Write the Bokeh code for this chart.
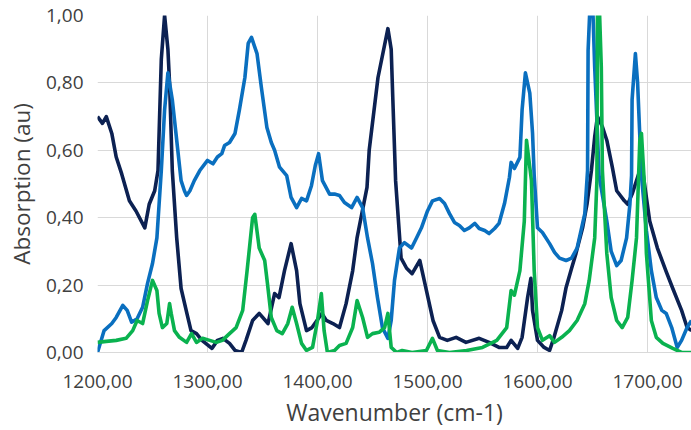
from bokeh.plotting import figure
from bokeh.models import FixedTicker, CustomJSTickFormatter, Range1d
from bokeh.embed import file_html
from bokeh.resources import INLINE

# Navy series
navy_x = [1200, 1204.5, 1208, 1213, 1217, 1222, 1229, 1235, 1243, 1247, 1252, 1255, 1258, 1261, 1264, 1265.5,
          1268, 1272, 1276, 1281, 1285, 1290, 1295, 1304, 1309, 1314, 1320, 1325, 1331, 1335, 1341, 1347,
          1355, 1361, 1365, 1370, 1376, 1381, 1384, 1390, 1395, 1404, 1408, 1414, 1420, 1426, 1432, 1436,
          1445, 1447, 1455, 1464, 1467, 1468.5, 1471, 1476, 1481, 1486, 1493, 1497, 1505, 1511, 1518, 1526,
          1535, 1547, 1556, 1565, 1572, 1576, 1582, 1586, 1591, 1594, 1595.5, 1600, 1606, 1611, 1615, 1622,
          1626, 1631, 1635, 1641, 1645, 1649, 1652, 1654.5, 1659, 1663, 1668, 1672, 1679, 1682, 1686, 1691,
          1694, 1696, 1702, 1709, 1717, 1723, 1731, 1736, 1740]
navy_y = [0.70, 0.68, 0.70, 0.65, 0.58, 0.53, 0.45, 0.42, 0.37, 0.44, 0.48, 0.54, 0.87, 1.00, 0.90, 0.80,
          0.54, 0.34, 0.19, 0.12, 0.065, 0.056, 0.036, 0.012, 0.036, 0.042, 0.027, 0.006, 0.0, 0.036, 0.095, 0.116,
          0.086, 0.175, 0.163, 0.243, 0.323, 0.243, 0.145, 0.065, 0.074, 0.116, 0.095, 0.086, 0.074, 0.145, 0.243, 0.341,
          0.49, 0.60, 0.816, 0.961, 0.90, 0.75, 0.51, 0.28, 0.25, 0.234, 0.273, 0.214, 0.095, 0.045, 0.036, 0.045,
          0.03, 0.042, 0.03, 0.015, 0.015, 0.036, 0.012, 0.045, 0.163, 0.22, 0.125, 0.036, 0.015, 0.006, 0.045, 0.125,
          0.193, 0.25, 0.294, 0.37, 0.44, 0.54, 0.64, 0.70, 0.67, 0.63, 0.55, 0.48, 0.45, 0.44, 0.47, 0.52,
          0.55, 0.53, 0.39, 0.31, 0.24, 0.19, 0.125, 0.074, 0.065]

# Blue series
blue_x = [1200, 1206, 1213, 1217, 1223, 1227, 1231, 1236, 1241, 1245.5, 1250, 1254, 1256, 1258, 1261, 1264,
          1268, 1273, 1276, 1279, 1281, 1284, 1288, 1293, 1300, 1305, 1309, 1313, 1315.5, 1320, 1325, 1329,
          1334, 1337, 1340, 1345, 1349, 1354, 1358, 1361, 1365.5, 1372, 1376, 1381, 1385.5, 1390, 1394.5, 1398,
          1401, 1404.5, 1411, 1415.5, 1420, 1424.5, 1431, 1436, 1441, 1445.5, 1450, 1454.5, 1459, 1464, 1467, 1470,
          1474.5, 1479, 1485.5, 1490, 1494.5, 1500, 1504.5, 1511, 1515.5, 1520, 1524.5, 1529, 1533.5, 1538, 1543, 1547,
          1552, 1556, 1561, 1565, 1570, 1574.5, 1576, 1579, 1584, 1586, 1589, 1593, 1595.5, 1597, 1600, 1604.5,
          1611, 1615.5, 1620, 1626, 1631, 1636, 1643, 1645.5, 1646, 1648, 1650, 1652, 1654.5, 1656, 1663, 1667,
          1672, 1676, 1681, 1684, 1685.5, 1686, 1689, 1691, 1694.5, 1699, 1703.5, 1708, 1713, 1717, 1722, 1727,
          1731, 1736, 1740]
blue_y = [0.0, 0.065, 0.086, 0.104, 0.14, 0.125, 0.09, 0.10, 0.134, 0.205, 0.264, 0.34, 0.44, 0.54, 0.72, 0.83,
          0.75, 0.60, 0.51, 0.48, 0.466, 0.48, 0.51, 0.54, 0.57, 0.56, 0.58, 0.59, 0.614, 0.623, 0.65, 0.72,
          0.816, 0.917, 0.935, 0.887, 0.786, 0.668, 0.623, 0.60, 0.55, 0.525, 0.46, 0.43, 0.457, 0.45, 0.495, 0.555,
          0.59, 0.51, 0.47, 0.47, 0.466, 0.445, 0.43, 0.46, 0.43, 0.34, 0.264, 0.163, 0.074, 0.042, 0.095, 0.214,
          0.31, 0.326, 0.31, 0.34, 0.37, 0.42, 0.45, 0.457, 0.442, 0.412, 0.386, 0.377, 0.362, 0.37, 0.383, 0.368,
          0.362, 0.353, 0.368, 0.383, 0.442, 0.52, 0.564, 0.546, 0.579, 0.72, 0.83, 0.77, 0.65, 0.525, 0.37, 0.356,
          0.323, 0.297, 0.28, 0.273, 0.28, 0.31, 0.412, 0.54, 0.896, 1.05, 1.05, 0.846, 0.65, 0.525, 0.39, 0.30,
          0.258, 0.273, 0.34, 0.44, 0.525, 0.75, 0.887, 0.80, 0.525, 0.362, 0.243, 0.163, 0.125, 0.116, 0.074, 0.015,
          0.036, 0.074, 0.095]

# Green series
green_x = [1200, 1208, 1217, 1226, 1232, 1236, 1241, 1245.5, 1250, 1254, 1256, 1259, 1263, 1265.5, 1267, 1270,
           1274.5, 1281, 1285.5, 1290, 1295.5, 1302, 1308, 1313.5, 1320, 1326, 1332, 1336, 1341, 1343, 1347, 1352,
           1354.5, 1358, 1363, 1368, 1373, 1377, 1381, 1385.5, 1390, 1395.5, 1400, 1403.5, 1406, 1409, 1415.5, 1420,
           1426, 1432, 1436, 1441, 1445.5, 1450, 1456, 1461, 1464, 1467, 1472, 1477, 1486, 1499, 1504.5, 1509,
           1520, 1535.5, 1550, 1563, 1572, 1576, 1579, 1584, 1588, 1590, 1594.5, 1597, 1600, 1604.5, 1611, 1615.5,
           1622, 1629, 1636, 1643, 1647, 1652, 1654, 1654.5, 1656, 1658, 1659, 1663, 1667, 1672, 1677, 1682,
           1686, 1690, 1693, 1694.5, 1697, 1699, 1703.5, 1708, 1714, 1723, 1731, 1740]
green_y = [0.03, 0.033, 0.036, 0.042, 0.065, 0.095, 0.086, 0.154, 0.214, 0.184, 0.116, 0.074, 0.086, 0.145, 0.116, 0.065,
           0.045, 0.03, 0.056, 0.03, 0.042, 0.036, 0.03, 0.036, 0.056, 0.074, 0.125, 0.243, 0.40, 0.41, 0.31, 0.273,
           0.205, 0.104, 0.065, 0.056, 0.086, 0.134, 0.086, 0.027, 0.006, 0.015, 0.095, 0.175, 0.065, 0.0, 0.006, 0.021,
           0.027, 0.074, 0.154, 0.104, 0.045, 0.056, 0.06, 0.074, 0.116, 0.015, 0.0, 0.006, 0.0, 0.006, 0.042, 0.006,
           0.0, 0.006, 0.015, 0.036, 0.074, 0.184, 0.17, 0.243, 0.39, 0.63, 0.51, 0.243, 0.074, 0.036, 0.05, 0.03,
           0.045, 0.065, 0.095, 0.145, 0.214, 0.34, 0.51, 1.05, 1.05, 0.846, 0.54, 0.294, 0.163, 0.095, 0.074, 0.104,
           0.214, 0.34, 0.63, 0.65, 0.51, 0.294, 0.095, 0.045, 0.027, 0.012, 0.0, 0.0]

x_ticks = [1200, 1300, 1400, 1500, 1600, 1700]
y_ticks = [0.0, 0.2, 0.4, 0.6, 0.8, 1.0]

FONT = "Open Sans"
TEXT = "#404040"

p = figure(width=691, height=430, output_backend="svg", toolbar_location=None,
           x_range=Range1d(1200, 1740), y_range=Range1d(0, 1.0),
           min_border_left=97, min_border_right=0, min_border_top=15, min_border_bottom=78)
p.outline_line_color = None
p.background_fill_color = "white"
p.border_fill_color = "white"

p.line(navy_x, navy_y, line_color="#0c2152", line_width=3.6, line_join="round")
p.line(blue_x, blue_y, line_color="#0a6fbf", line_width=3.6, line_join="round")
p.line(green_x, green_y, line_color="#0ab24f", line_width=3.6, line_join="round")

fmt = CustomJSTickFormatter(code="return tick.toFixed(2).replace('.', ',');")
for ax, ticks in ((p.xaxis[0], x_ticks), (p.yaxis[0], y_ticks)):
    ax.ticker = FixedTicker(ticks=ticks)
    ax.formatter = fmt
    ax.major_tick_line_color = None
    ax.minor_tick_line_color = None
    ax.major_tick_out = 0
    ax.major_tick_in = 0
    ax.minor_tick_out = 0
    ax.major_label_text_font = FONT
    ax.major_label_text_font_size = "19px"
    ax.major_label_text_color = TEXT
    ax.axis_label_text_font = FONT
    ax.axis_label_text_font_style = "normal"
    ax.axis_label_text_color = TEXT

p.xaxis.axis_label = "Wavenumber (cm-1)"
p.yaxis.axis_label = "Absorption (au)"
p.xaxis.axis_label_text_font_size = "23px"
p.yaxis.axis_label_text_font_size = "22.5px"
p.xaxis.axis_line_color = "#d9d9d9"
p.yaxis.axis_line_color = None
p.xaxis.major_label_standoff = 22
p.yaxis.major_label_standoff = 14
p.xaxis.axis_label_standoff = 5
p.yaxis.axis_label_standoff = 6

p.grid.grid_line_color = "#d9d9d9"
p.grid.grid_line_width = 1

open("out.html", "w").write(file_html(p, INLINE))
